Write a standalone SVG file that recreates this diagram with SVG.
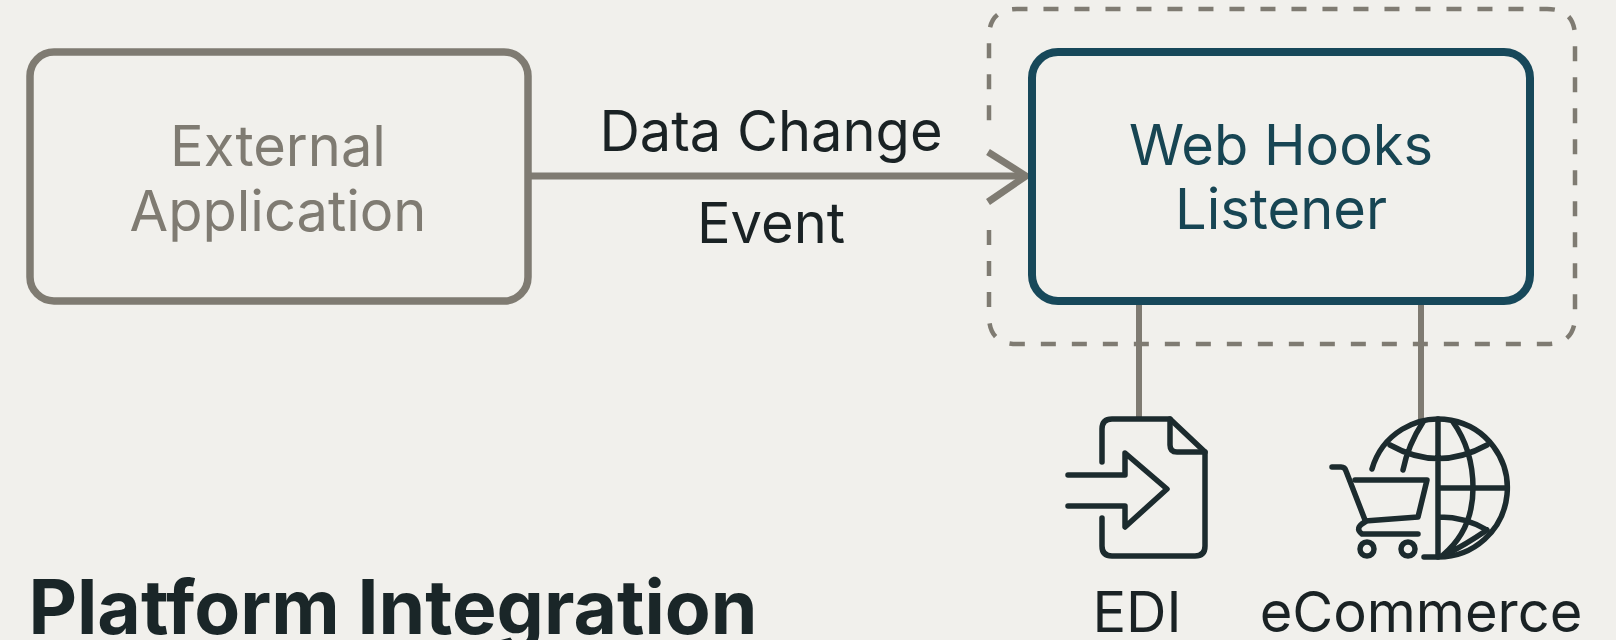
<svg xmlns="http://www.w3.org/2000/svg" width="1616" height="640" viewBox="0 0 1616 640">
<style>
text{font-family:Inter,"Liberation Sans",sans-serif;text-anchor:middle;font-size:56px}
.lbl{fill:#1a2224}
.ext{fill:#7f7b72}
.web{fill:#174553}
.ic{fill:none;stroke:#1c2b2e;stroke-width:5.500;stroke-linecap:round;stroke-linejoin:round}
.con{fill:none;stroke:#7f7b72;stroke-width:7}
</style>
<rect width="1616" height="640" fill="#f1f0ec"/>
<g id="group-boundary"><path d="M989 230V316Q989 344 1017 344H1547Q1575 344 1575 316V37Q1575 9 1547 9H1017Q989 9 989 37V123" fill="none" stroke="#7f7b72" stroke-width="4.500" stroke-dasharray="15 16"/></g>
<g id="connectors">
<path class="con" d="M530 176H1026"/>
<path class="con" d="M988 152L1026 176L988 202"/>
<path class="con" d="M1139 301V419M1421 301V419" style="stroke-width:6"/>
</g>
<g id="external-application"><rect x="30" y="52" width="498" height="249" rx="24" fill="none" stroke="#7f7b72" stroke-width="7.500"/>
<text class="ext" x="278" y="166">External</text><text class="ext" x="278" y="231">Application</text></g>
<g id="web-hooks-listener"><rect x="1032" y="52" width="498" height="249" rx="26" fill="none" stroke="#17485a" stroke-width="8"/>
<text class="web" x="1281" y="165">Web Hooks</text><text class="web" x="1281" y="229">Listener</text></g>
<g id="event-label"><text class="lbl" x="771" y="151">Data Change</text><text class="lbl" x="771" y="243">Event</text></g>
<g id="edi"><path class="ic" d="M1102 462V429Q1102 419 1112 419H1170L1205 452V546Q1205 556 1195 556H1112Q1102 556 1102 546V518"/>
<path class="ic" d="M1170 419V445Q1170 452 1177 452H1205"/>
<path class="ic" d="M1068 475H1125V453L1167 489L1125 527V506H1068"/>
<text class="lbl" x="1137" y="632">EDI</text></g>
<g id="ecommerce">
<path class="ic" d="M1372 469A69 69 0 1 1 1438 557H1424"/>
<path class="ic" d="M1438 419V557M1440 488H1507M1390 445Q1438 472 1487 445M1423 422Q1408 445 1403 470M1453 422Q1473 450 1473 488Q1473 530 1443 555M1440 517Q1465 517 1487 530M1487 530Q1465 545 1445 555"/>
<path class="ic" d="M1332 467H1341Q1345 467 1346 471L1365 520"/>
<path class="ic" d="M1355 480H1427L1418 517L1365 521"/>
<path class="ic" d="M1418 534H1362Q1354 528 1365 522"/>
<circle class="ic" cx="1367" cy="549" r="7"/><circle class="ic" cx="1408" cy="549" r="7"/>
<text class="lbl" x="1421" y="632">eCommerce</text></g>
<g id="title"><text x="393" y="634" style="font-size:75px;font-weight:700;fill:#1a2628">Platform Integration</text></g>
</svg>
